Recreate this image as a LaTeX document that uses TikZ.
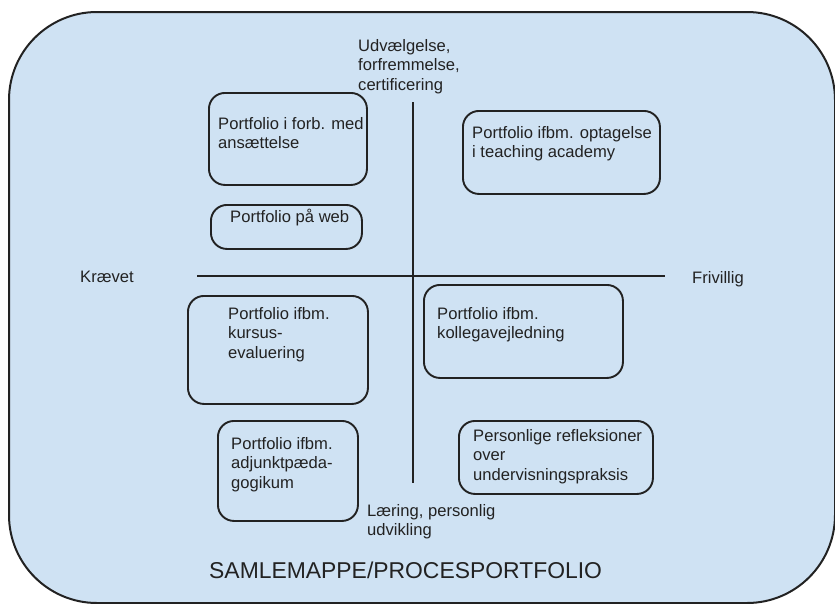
\documentclass[tikz,border=0pt]{standalone}
\usepackage{fontspec}
\setmainfont{Liberation Sans}
\definecolor{bgblue}{HTML}{CFE2F3}
\definecolor{ink}{HTML}{222222}
\begin{document}
\begin{tikzpicture}[x=1pt,y=-1pt,
  frame/.style={draw=ink, fill=bgblue, line width=2pt, rounded corners=88pt, inner sep=0, anchor=north west},
  box/.style={draw=ink, line width=1.9pt, rounded corners=16pt, inner sep=0, anchor=north west},
  txt/.style={anchor=north west, inner sep=0, align=left, text=ink, font=\fontsize{16.6}{19.5}\selectfont},
  big/.style={anchor=north west, inner sep=0, text=ink, font=\fontsize{22.9}{27}\selectfont},
  axis/.style={draw=ink, line width=1.9pt}]
\useasboundingbox (0,0) rectangle (835,603);
\node[frame, minimum width=826pt, minimum height=591pt] (fr) at (8,11) {};
% axes
\coordinate (hl) at (197,276);
\coordinate (hr) at (665,276);
\coordinate (vt) at (413,102);
\coordinate (vb) at (413,483);
\draw[axis] (hl) -- (hr);
\draw[axis] (vt) -- (vb);
% boxes
\node[box, minimum width=158pt, minimum height=92pt] (b1) at (208,92) {};
\node[box, minimum width=151pt, minimum height=44pt] (b2) at (210,204) {};
\node[box, minimum width=197pt, minimum height=83pt] (b3) at (462,110) {};
\node[box, minimum width=180pt, minimum height=108pt] (b4) at (187,295) {};
\node[box, minimum width=140pt, minimum height=100pt] (b5) at (217,420) {};
\node[box, minimum width=199pt, minimum height=93pt] (b6) at (423,284) {};
\node[box, minimum width=194pt, minimum height=73pt] (b7) at (458,420) {};
% texts
\node[txt] (t1) at (218,117) {Portfolio i forb. med\\ansættelse};
\node[txt] (t2) at (230,209) {Portfolio på web};
\node[txt] (t3) at (472,126) {Portfolio ifbm. optagelse\\i teaching academy};
\node[txt] (t4) at (228,307) {Portfolio ifbm.\\kursus-\\evaluering};
\node[txt] (t5) at (231,437) {Portfolio ifbm.\\adjunktpæda-\\gogikum};
\node[txt] (t6) at (437,307) {Portfolio ifbm.\\kollegavejledning};
\node[txt] (t7) at (473,429) {Personlige refleksioner\\over\\undervisningspraksis};
\node[txt] (top) at (358,39) {Udvælgelse,\\forfremmelse,\\certificering};
\node[txt] (bot) at (367,504) {Læring, personlig\\udvikling};
\node[txt] (left) at (80,271) {Krævet};
\node[txt] (right) at (692,271) {Frivillig};
\node[big] (title) at (209,562) {SAMLEMAPPE/PROCESPORTFOLIO};
\end{tikzpicture}
\end{document}
